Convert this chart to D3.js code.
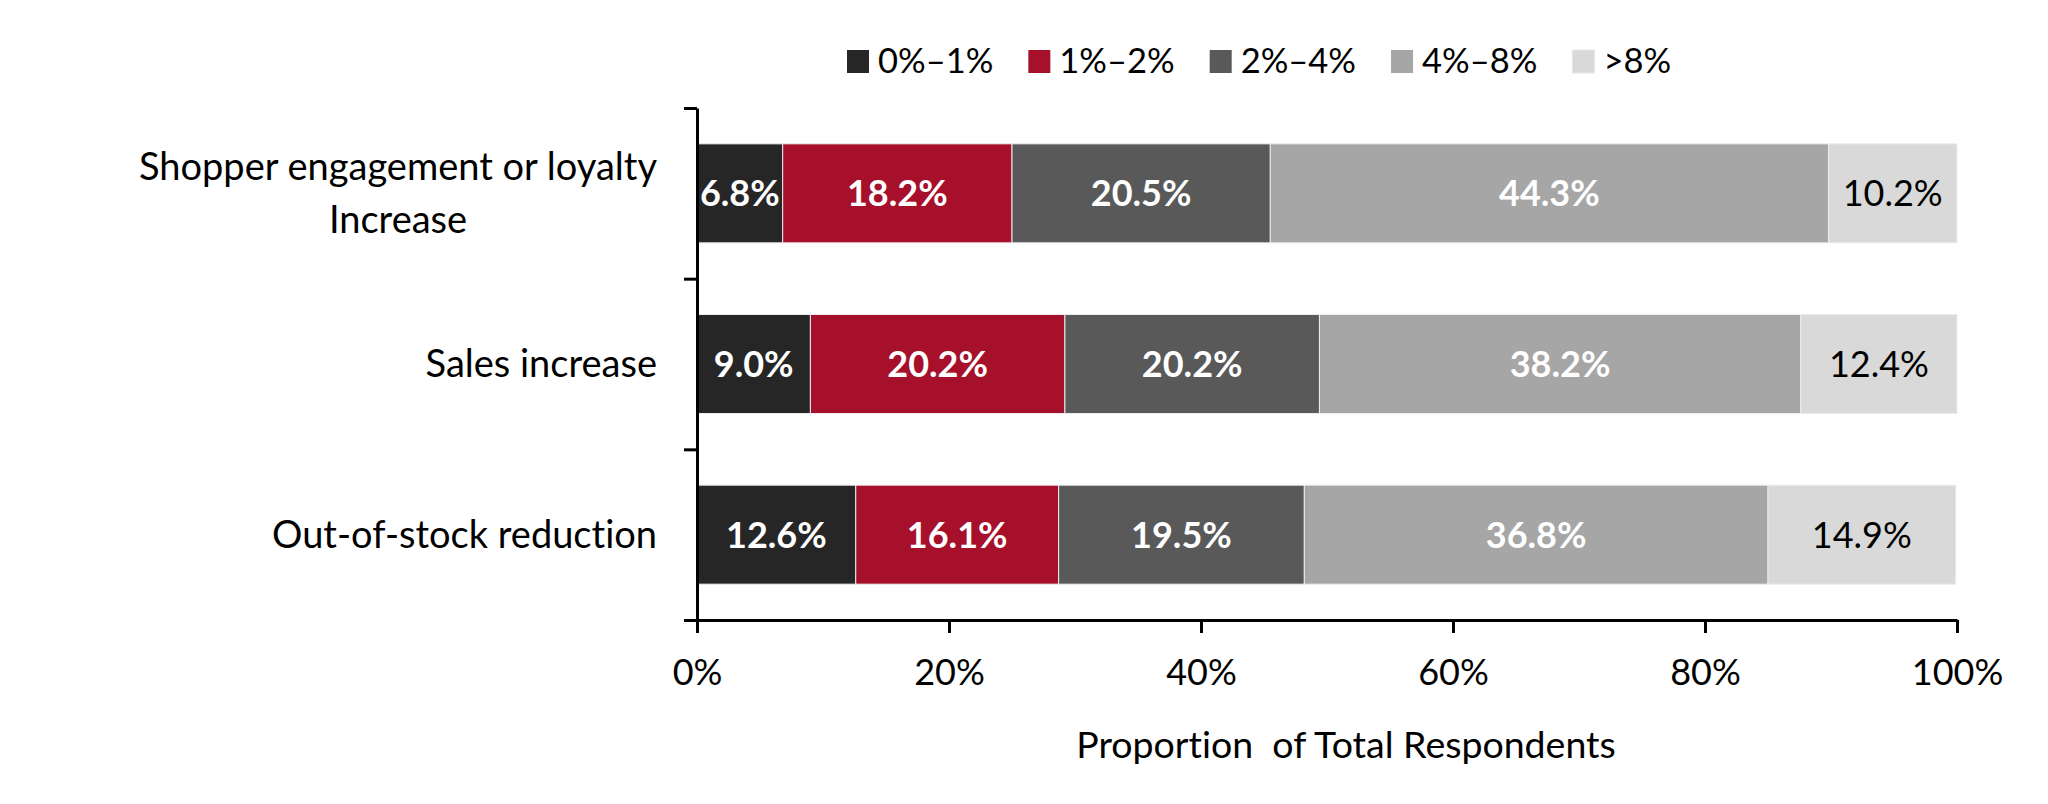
<!DOCTYPE html>
<html>
<head>
<meta charset="utf-8">
<script src="https://cdn.jsdelivr.net/npm/d3@7"></script>
<style>
  html, body { margin: 0; padding: 0; background: #fff; }
  svg { display: block; font-family: Lato, "Open Sans", sans-serif; font-variant-ligatures: none; }
</style>
</head>
<body>
<svg id="chart" width="2048" height="804"></svg>
<script>
// ---- data ----
const categories = ["Shopper engagement or loyalty Increase", "Sales increase", "Out-of-stock reduction"];
const categoryLines = [["Shopper engagement or loyalty", "Increase"], ["Sales increase"], ["Out-of-stock reduction"]];
const seriesNames = ["0%\u20131%", "1%\u20132%", "2%\u20134%", "4%\u20138%", ">8%"];
const s0to1 = [6.8, 9.0, 12.6];
const s1to2 = [18.2, 20.2, 16.1];
const s2to4 = [20.5, 20.2, 19.5];
const s4to8 = [44.3, 38.2, 36.8];
const sOver8 = [10.2, 12.4, 14.9];
const xTicks = [0, 0.2, 0.4, 0.6, 0.8, 1.0];
const xTitle = "Proportion\u00a0 of Total Respondents";

const colors = ["#262626", "#a6102b", "#595959", "#a6a6a6", "#d9d9d9"];
const labelColors = ["#fff", "#fff", "#fff", "#fff", "#000"];
const labelWeights = ["bold", "bold", "bold", "bold", "normal"];

const seriesValues = [s0to1, s1to2, s2to4, s4to8, sOver8];
const rows = categories.map((c, i) => {
  const r = { cat: c };
  seriesNames.forEach((s, k) => r[s] = seriesValues[k][i] / 100);
  return r;
});
const stacked = d3.stack().keys(seriesNames)(rows);

const svg = d3.select("#chart");
const FS = 36;

const x = d3.scaleLinear().domain([0, 1]).range([697, 1957]);
const y = d3.scaleBand().domain(categories).range([108, 620]).paddingInner(0.42).paddingOuter(0.21);
const yEdge = d3.scaleLinear().domain([0, categories.length]).range([108, 620]);

// bars
const layer = svg.append("g").selectAll("g").data(stacked).join("g")
  .attr("fill", (d, k) => colors[k]);
layer.selectAll("rect").data(d => d).join("rect")
  .attr("x", d => x(d[0]))
  .attr("y", d => y(d.data.cat))
  .attr("width", d => x(d[1]) - x(d[0]))
  .attr("height", y.bandwidth())
  .attr("stroke", "#ececec")
  .attr("stroke-width", 1);

// bar labels
stacked.forEach((ser, k) => {
  svg.append("g").selectAll("text").data(ser).join("text")
    .attr("x", d => (x(d[0]) + x(d[1])) / 2)
    .attr("y", d => y(d.data.cat) + y.bandwidth() / 2)
    .attr("dy", "0.36em")
    .attr("text-anchor", "middle")
    .attr("fill", labelColors[k])
    .attr("font-weight", labelWeights[k])
    .attr("font-size", FS)
    .text(d => (d[1] - d[0] > 0 ? ((d[1] - d[0]) * 100).toFixed(1) + "%" : ""));
});

// y axis
const yAxis = svg.append("g").attr("transform", `translate(${x(0)},0)`)
  .call(d3.axisLeft(yEdge).tickValues(d3.range(categories.length + 1)).tickFormat("").tickSize(13).tickSizeOuter(0));
yAxis.selectAll("path, line").attr("stroke", "#000").attr("stroke-width", 3);

// x axis
const xAxis = svg.append("g").attr("transform", `translate(0,620)`)
  .call(d3.axisBottom(x).tickValues(xTicks).tickFormat(d3.format(".0%")).tickSize(13).tickSizeOuter(0));
xAxis.selectAll("path, line").attr("stroke", "#000").attr("stroke-width", 3);
xAxis.selectAll("text").attr("y", 65).attr("dy", 0).attr("font-size", FS)
  .attr("font-family", "Lato, sans-serif").attr("fill", "#000");

// category labels
const CFS = 38;
categoryLines.forEach((lines, i) => {
  const cy = y(categories[i]) + y.bandwidth() / 2;
  const lh = 53;
  const t = svg.append("text").attr("font-size", CFS).attr("fill", "#000");
  const first = t.append("tspan").attr("x", 657).attr("text-anchor", "end")
    .attr("y", cy + 13 - (lines.length - 1) * lh / 2).text(lines[0]);
  if (lines.length > 1) {
    const w = first.node().getComputedTextLength();
    lines.slice(1).forEach((ln, j) => {
      svg.append("text").attr("font-size", CFS).attr("fill", "#000")
        .attr("x", 657 - w / 2).attr("text-anchor", "middle")
        .attr("y", cy + 13 - (lines.length - 1) * lh / 2 + (j + 1) * lh).text(ln);
    });
  }
});

// x title
svg.append("text").attr("x", 1346).attr("y", 758).attr("text-anchor", "middle")
  .attr("font-size", 37.5).attr("fill", "#000").text(xTitle);

// legend
let lx = 847;
seriesNames.forEach((s, k) => {
  svg.append("rect").attr("x", lx).attr("y", 50).attr("width", 22).attr("height", 23)
    .attr("fill", colors[k]).attr("stroke", k === 4 ? "#e6e6e6" : "none");
  const t = svg.append("text").attr("x", lx + 31).attr("y", 73).attr("font-size", 34.5)
    .attr("fill", "#000").text(s);
  lx += 31 + t.node().getComputedTextLength() + 35;
});
</script>
</body>
</html>
